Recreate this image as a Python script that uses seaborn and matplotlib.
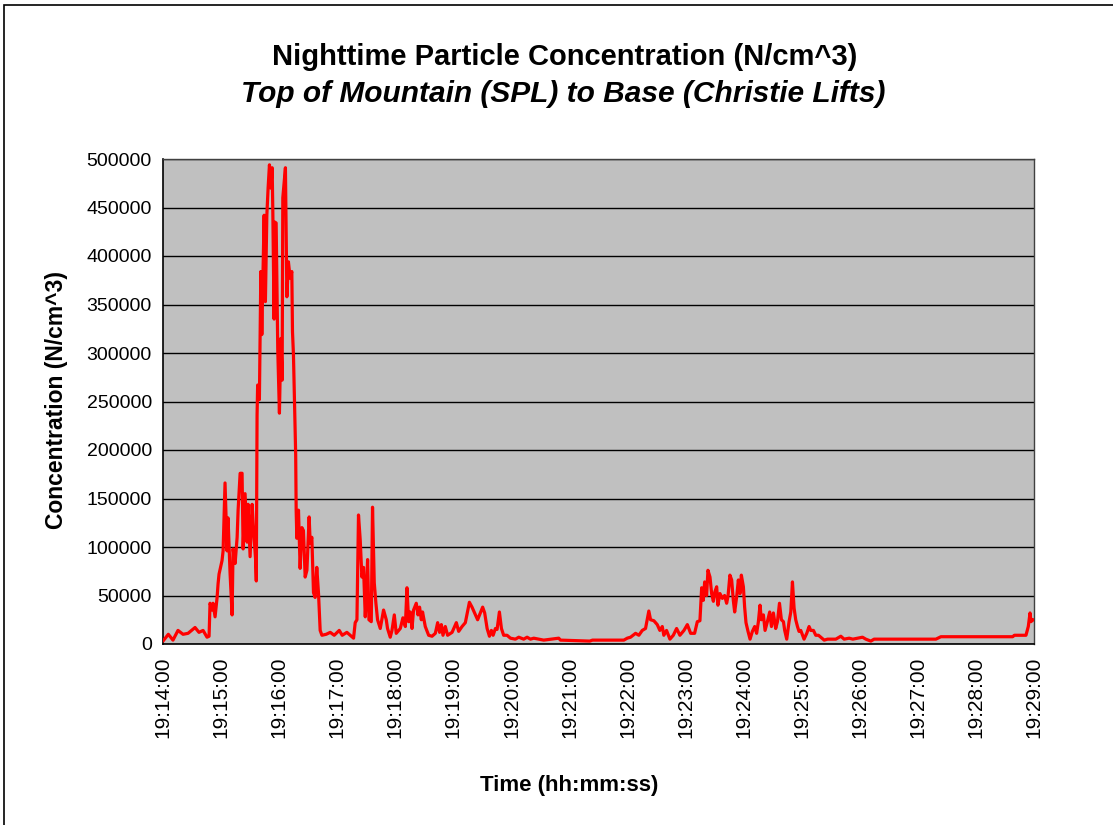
import pandas as pd
import matplotlib
matplotlib.use("Agg")
import matplotlib.pyplot as plt
import matplotlib.dates as mdates
import seaborn as sns

# seconds after 19:14:00 and particle concentration (N/cm^3)
start_time = "2000-01-01 19:14:00"
elapsed_s = [
    0, 5.5, 10.3, 15.5, 20.7, 25.9, 33.1, 37.2, 41.4, 45.5, 47.6, 48.6, 50.7, 51.7,
    53.8, 55.9, 56.9, 57.9, 61.0, 62.1, 64.1, 66.2, 67.2, 69.3, 71.4, 72.4, 74.5,
    76.6, 77.6, 79.7, 81.7, 82.8, 84.8, 86.9, 87.9, 90.0, 92.1, 93.1, 95.7, 96.4,
    97.2, 97.8, 99.6, 101.1, 102.1, 103.4, 104.5, 105.8, 107.3, 108.6, 110.0,
    111.4, 112.8, 113.5, 114.8, 115.6, 116.9, 118.6, 120.3, 121.8, 123.1, 123.8,
    126.5, 128.0, 129.6, 131.4, 133.1, 133.8, 134.8, 136.6, 137.1, 137.6, 138.3,
    140.0, 141.7, 143.5, 145.1, 146.9, 148.7, 151.0, 152.1, 153.8, 155.5, 157.2,
    158.9, 160.7, 162.4, 164.2, 168.6, 172.8, 176.9, 182.1, 185.2, 190.0, 193.4,
    196.9, 198.6, 200.4, 202.0, 203.8, 205.5, 207.2, 209.0, 210.0, 211.4, 212.8,
    215.2, 216.5, 218.3, 220.0, 221.7, 224.5, 227.9, 230.7, 232.0, 234.8, 236.6,
    239.0, 241.0, 245.2, 247.9, 250.4, 252.1, 253.8, 255.5, 257.3, 258.9, 261.7,
    263.5, 265.1, 266.9, 268.2, 271.0, 274.5, 278.0, 281.4, 283.8, 285.8, 287.6,
    289.3, 291.7, 294.1, 298.7, 303.1, 305.5, 309.0, 312.4, 316.6, 319.3, 322.8,
    325.1, 327.9, 330.3, 332.4, 334.9, 337.3, 339.3, 341.1, 343.5, 345.2, 347.6,
    349.7, 352.0, 355.5, 359.0, 364.1, 367.6, 372.7, 376.2, 379.7, 383.1, 388.3,
    393.4, 408.9, 410.7, 441.0, 443.8, 476.2, 479.7, 483.1, 488.3, 491.7, 495.2,
    498.6, 502.0, 503.8, 507.2, 510.7, 513.4, 515.9, 517.5, 520.3, 523.8, 527.3,
    530.7, 534.1, 538.3, 541.8, 545.2, 549.3, 552.1, 554.8, 556.6, 558.3, 559.7,
    561.7, 563.1, 565.2, 566.9, 568.7, 570.3, 572.1, 573.4, 575.5, 578.0, 580.3,
    582.4, 583.8, 585.8, 587.6, 589.3, 590.7, 592.8, 594.5, 596.2, 597.6, 599.7,
    601.0, 602.4, 604.5, 606.6, 609.0, 611.4, 613.4, 615.2, 616.9, 618.3, 620.4,
    622.1, 624.5, 626.9, 628.7, 630.7, 633.1, 634.9, 637.0, 639.0, 641.1, 642.4,
    644.5, 646.9, 648.7, 650.4, 652.1, 653.8, 655.6, 657.2, 659.0, 662.4, 665.2,
    667.6, 669.3, 672.1, 674.5, 677.3, 679.7, 683.2, 686.7, 695.2, 700.4, 703.8,
    709.0, 712.8, 717.6, 722.8, 726.2, 731.4, 734.8, 798.6, 803.8, 878.0, 879.7,
    891.7, 894.1, 895.9, 896.9, 898.7, 900.0,
]
concentration = [
    3000, 10000, 4000, 14000, 10000, 11000, 17000, 12000, 14000, 7000, 8000, 42000,
    35000, 42000, 28000, 48000, 62000, 72000, 86000, 96000, 166000, 96000, 130000,
    73000, 30000, 98000, 83000, 110000, 138000, 176000, 176000, 98000, 155000,
    105000, 144000, 90000, 144000, 125000, 87000, 65000, 236000, 267000, 252000,
    384000, 319000, 384000, 442000, 353000, 442000, 470000, 494000, 470000, 491000,
    444000, 335000, 435000, 434000, 303000, 238000, 315000, 272000, 460000, 491000,
    358000, 394000, 377000, 384000, 322000, 298000, 218000, 195000, 138000, 109000,
    138000, 78000, 120000, 117000, 69000, 76000, 131000, 104000, 110000, 53000,
    48000, 79000, 52000, 14000, 9000, 10000, 12000, 9000, 14000, 9000, 12000, 9000,
    6000, 22000, 25000, 133000, 107000, 69000, 79000, 28000, 49000, 87000, 25000,
    23000, 141000, 63000, 42000, 25000, 16000, 35000, 25000, 16000, 7000, 14000,
    30000, 11000, 16000, 27000, 18000, 58000, 23000, 33000, 16000, 35000, 42000,
    30000, 38000, 25000, 33000, 18000, 9000, 8000, 11000, 22000, 12000, 20000,
    9000, 18000, 9000, 12000, 22000, 13000, 18000, 22000, 43000, 38000, 30000,
    25000, 32000, 38000, 32000, 16000, 8000, 14000, 9000, 16000, 15000, 33000,
    16000, 9000, 9000, 6000, 5000, 7000, 5000, 7000, 5000, 6000, 5000,
    4000, 6000, 4000, 3000, 4000, 4000, 6000, 7000, 11000, 9000, 14000,
    16000, 34000, 25000, 24000, 20000, 14000, 18000, 9000, 14000, 5000, 9000,
    16000, 9000, 14000, 20000, 11000, 11000, 23000, 24000, 58000, 45000, 64000,
    50000, 76000, 69000, 52000, 44000, 54000, 59000, 40000, 52000, 47000, 50000,
    42000, 49000, 71000, 66000, 45000, 33000, 49000, 66000, 52000, 71000, 59000,
    38000, 22000, 13000, 5000, 13000, 18000, 11000, 23000, 40000, 25000, 30000,
    14000, 23000, 33000, 18000, 32000, 16000, 23000, 42000, 25000, 23000, 14000,
    5000, 23000, 33000, 64000, 37000, 25000, 18000, 13000, 14000, 5000, 11000,
    18000, 14000, 14000, 9000, 9000, 7000, 4000, 5000, 5000, 8000, 5000,
    6000, 5000, 6000, 7000, 5000, 3000, 5000, 5000, 7500, 7500, 9000,
    9000, 18000, 32000, 23000, 25000, 25000,
]
y_ticks = list(range(0, 500001, 50000))

df = pd.DataFrame({
    "Time": pd.Timestamp(start_time) + pd.to_timedelta(elapsed_s, unit="s"),
    "Concentration": concentration,
})

sns.set_theme(style="white")
plt.rcParams["font.family"] = ["Liberation Sans", "DejaVu Sans"]
plt.rcParams["text.color"] = "black"
plt.rcParams["xtick.color"] = "black"
plt.rcParams["ytick.color"] = "black"

fig = plt.figure(figsize=(11.13, 8.25), dpi=100)
ax = fig.add_axes([163 / 1113, 1 - 644 / 825, 871 / 1113, 485 / 825])

sns.lineplot(data=df, x="Time", y="Concentration", ax=ax, color="#FF0000",
             lw=2.3, estimator=None, sort=False, zorder=3)

ax.set_facecolor("#C0C0C0")
ax.set_ylim(0, 500000)
ax.set_yticks(y_ticks)
ax.yaxis.grid(True, color="black", lw=1.0)
ax.xaxis.grid(False)
t0 = pd.Timestamp(start_time)
ax.set_xlim(t0, t0 + pd.Timedelta(seconds=900))
ax.xaxis.set_major_locator(mdates.MinuteLocator())
ax.xaxis.set_major_formatter(mdates.DateFormatter("%H:%M:%S"))
ax.xaxis.set_minor_locator(mdates.SecondLocator(bysecond=range(0, 60, 2)))

ax.tick_params(axis="x", which="major", direction="out", length=7, width=1,
               labelsize=15, labelrotation=90, pad=2)
ax.tick_params(axis="x", which="minor", direction="out", length=7, width=0.8)
ax.tick_params(axis="y", direction="out", length=5, width=1, labelsize=14, pad=3)
for side in ["left", "bottom"]:
    ax.spines[side].set_color("black")
    ax.spines[side].set_linewidth(1.2)
for side in ["top", "right"]:
    ax.spines[side].set_color("#404040")
    ax.spines[side].set_linewidth(1.0)

ax.set_xlabel("")
ax.set_ylabel("")
fig.text(565 / 1113, 1 - 57 / 825, "Nighttime Particle Concentration (N/cm^3)",
         ha="center", va="center", fontsize=21, fontweight="bold")
fig.text(563 / 1113, 1 - 94 / 825, "Top of Mountain (SPL) to Base (Christie Lifts)",
         ha="center", va="center", fontsize=21.5, fontweight="bold", fontstyle="italic")
fig.text(57 / 1113, 1 - 400 / 825, "Concentration (N/cm^3)", rotation=90,
         ha="center", va="center", fontsize=16.5, fontweight="bold")
fig.text(569 / 1113, 1 - 785 / 825, "Time (hh:mm:ss)",
         ha="center", va="center", fontsize=16, fontweight="bold")

# chart area border
fig.patches.append(plt.Rectangle((4 / 1113, -0.1), 1.2, 0.1 + 820 / 825,
                                 transform=fig.transFigure, fill=False,
                                 edgecolor="black", lw=1.2))

fig.savefig("out.png", dpi=100, facecolor="white")
